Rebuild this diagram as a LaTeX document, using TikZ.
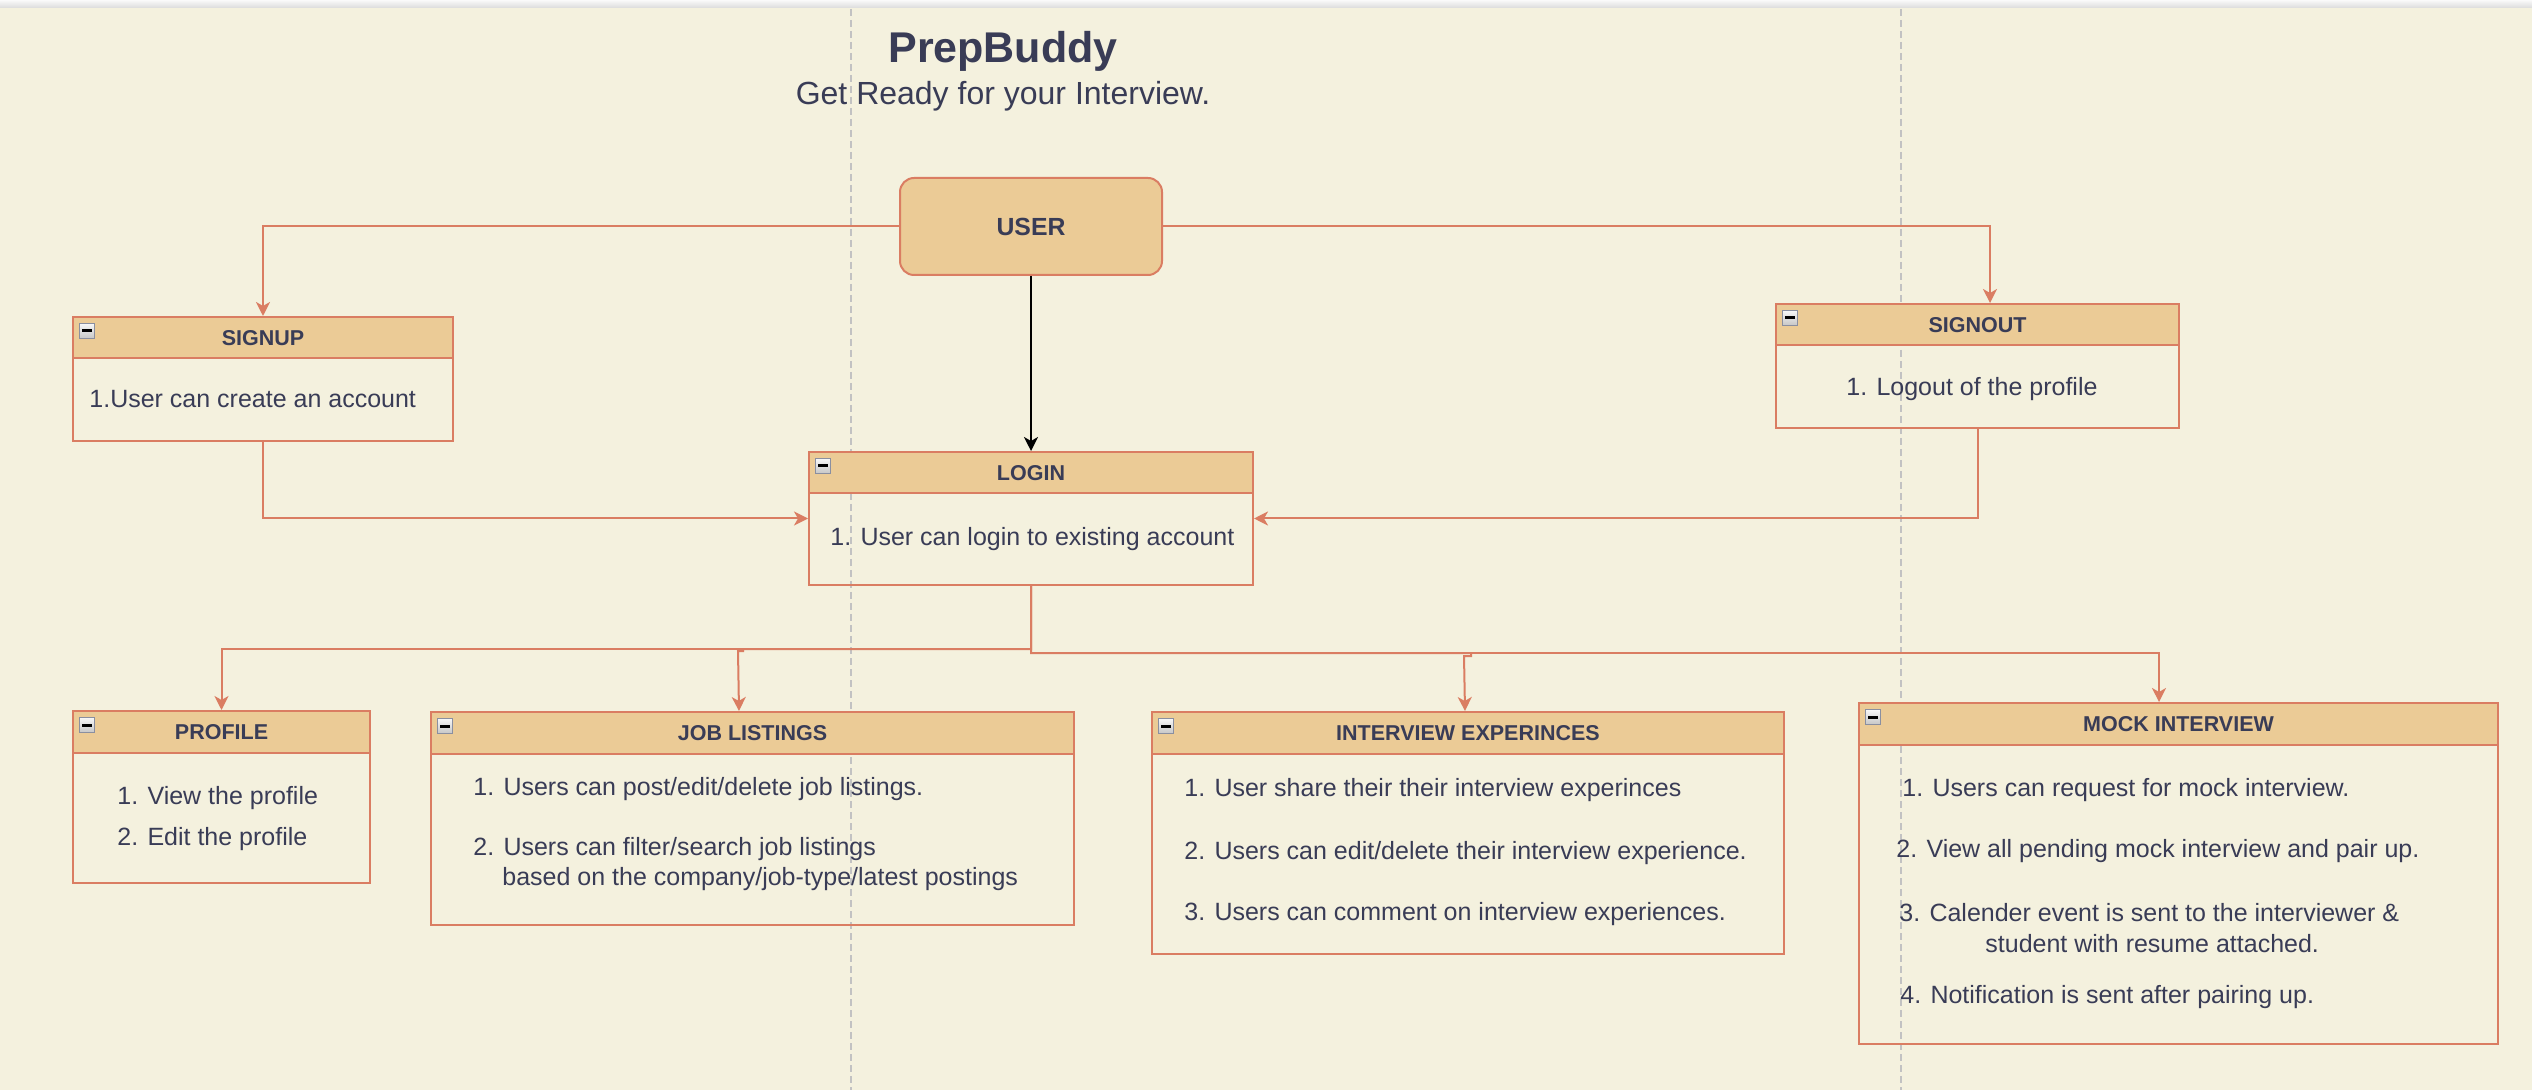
\documentclass[tikz,border=0pt]{standalone}
\usepackage{fontspec}
\setmainfont{Liberation Sans}
\usetikzlibrary{arrows.meta}
\definecolor{bgc}{HTML}{F4F1DE}
\definecolor{hdrc}{HTML}{EBCB96}
\definecolor{strk}{HTML}{DA7D62}
\definecolor{txt}{HTML}{393C56}
\definecolor{lanec}{HTML}{C2C2C2}
\definecolor{iconedge}{HTML}{8A8FA0}
\newcommand{\prepbox}[6]{%
  \node[frame, minimum width=#4, minimum height=#5] (#1) at (#2,#3) {};
  \node[hdr, minimum width=#4] (#1-h) at (#1.north west) {#6};
  \node[minusbox] (#1-m) at ([xshift=3.5pt,yshift=-3.5pt]#1.north west) {};
}
\begin{document}
\begin{tikzpicture}[x=0.5pt,y=-0.5pt,
  frame/.style={draw=strk, line width=1pt, inner sep=0pt, anchor=north west},
  hdr/.style={draw=strk, fill=hdrc, line width=1pt, inner sep=0pt, anchor=north west,
    text=txt, font=\fontsize{10.75pt}{12pt}\selectfont\bfseries, minimum height=20.75pt},
  body/.style={anchor=base west, inner sep=0pt, text=txt, font=\fontsize{12.5pt}{15pt}\selectfont},
  conn/.style={draw=strk, line width=1pt, -{Stealth[length=7pt,width=7pt,inset=2pt]}},
  lane/.style={draw=lanec, line width=1pt, dash pattern=on 3.5pt off 2pt},
  minusbox/.style={anchor=north west, minimum size=7.5pt, inner sep=0pt, draw=iconedge, line width=0.5pt,
    top color=white!94!gray, bottom color=gray!45,
    path picture={\fill[black] ([xshift=-2.7pt,yshift=-0.75pt]path picture bounding box.center) rectangle ([xshift=2.7pt,yshift=0.75pt]path picture bounding box.center);}}
]
\useasboundingbox (0,0) rectangle (2532,1090);
\shade[top color=white!96!gray, bottom color=gray!28] (0,0) rectangle (2532,8);
\fill[bgc] (0,8) rectangle (2532,1090);

% swimlane separators
\draw[lane] (851,9) -- (851,1090);
\draw[lane] (1901,9) -- (1901,1090);

% title
\node[anchor=base, text=txt, font=\fontsize{21.5pt}{24pt}\selectfont\bfseries] (title) at (1003,63) {PrepBuddy};
\node[anchor=base, text=txt, font=\fontsize{16pt}{19pt}\selectfont] (subtitle) at (1003,105) {Get Ready for your Interview.};

% user
\node[draw=strk, fill=hdrc, line width=1pt, rounded corners=7pt, minimum width=131pt, minimum height=48.5pt,
  anchor=north west, text=txt, font=\fontsize{12.4pt}{14pt}\selectfont\bfseries] (user) at (899,177) {USER};

% boxes
\prepbox{signup}{72}{316}{190pt}{62pt}{SIGNUP}
\prepbox{login}{808}{451}{222pt}{66.5pt}{LOGIN}
\prepbox{signout}{1775}{303}{201.5pt}{62pt}{SIGNOUT}
\prepbox{profile}{72}{710}{148.5pt}{86pt}{PROFILE}
\prepbox{job}{430}{711}{321.5pt}{106.5pt}{JOB LISTINGS}
\prepbox{interview}{1151}{711}{316pt}{121pt}{INTERVIEW EXPERINCES}
\prepbox{mock}{1858}{702}{319.5pt}{170.5pt}{MOCK INTERVIEW}

% body texts
\node[body] (signup-t1) at (89,408) {1.User can create an account};
\node[body] (login-t1) at (830,546) {1. User can login to existing account};
\node[body] (signout-t1) at (1846,396) {1. Logout of the profile};
\node[body] (profile-t1) at (117,804) {1. View the profile};
\node[body] (profile-t2) at (117,845) {2. Edit the profile};
\node[body] (job-t1) at (473,795) {1. Users can post/edit/delete job listings.};
\node[body] (job-t2) at (473,855) {2. Users can filter/search job listings};
\node[body] (job-t3) at (502,885) {based on the company/job-type/latest postings};
\node[body] (interview-t1) at (1184,796) {1. User share their their interview experinces};
\node[body] (interview-t2) at (1184,859) {2. Users can edit/delete their interview experience.};
\node[body] (interview-t3) at (1184,920) {3. Users can comment on interview experiences.};
\node[body] (mock-t1) at (1902,796) {1. Users can request for mock interview.};
\node[body] (mock-t2) at (1896,857) {2. View all pending mock interview and pair up.};
\node[body] (mock-t3) at (1899,921) {3. Calender event is sent to the interviewer \&};
\node[body] (mock-t3b) at (1985,952) {student with resume attached.};
\node[body] (mock-t4) at (1900,1003) {4. Notification is sent after pairing up.};

% connectors
\draw[conn] (user.west) -| (signup.north);
\draw[conn] (user.east) -| ([xshift=6.25pt]signout.north);
\draw[conn, draw=black] (user.south) -- (login.north);
\draw[conn] (signup.south) |- (login.west);
\draw[conn] (signout.south) |- (login.east);
\coordinate (jl) at ([yshift=-31.5pt]login.south);
\coordinate (jr) at ([yshift=-33.5pt]login.south);
\draw[conn] (login.south) -- (jl) -| (profile.north);
\draw[conn] (login.south) -- (jl) -| (743,651) -- (738,651) -- ([xshift=-6.75pt]job.north);
\draw[conn] (login.south) -- (jr) -| (1471,656) -- (1464,656) -- ([xshift=-1.5pt]interview.north);
\draw[conn] (login.south) -- (jr) -| ([xshift=-9.75pt]mock.north);
\end{tikzpicture}
\end{document}
